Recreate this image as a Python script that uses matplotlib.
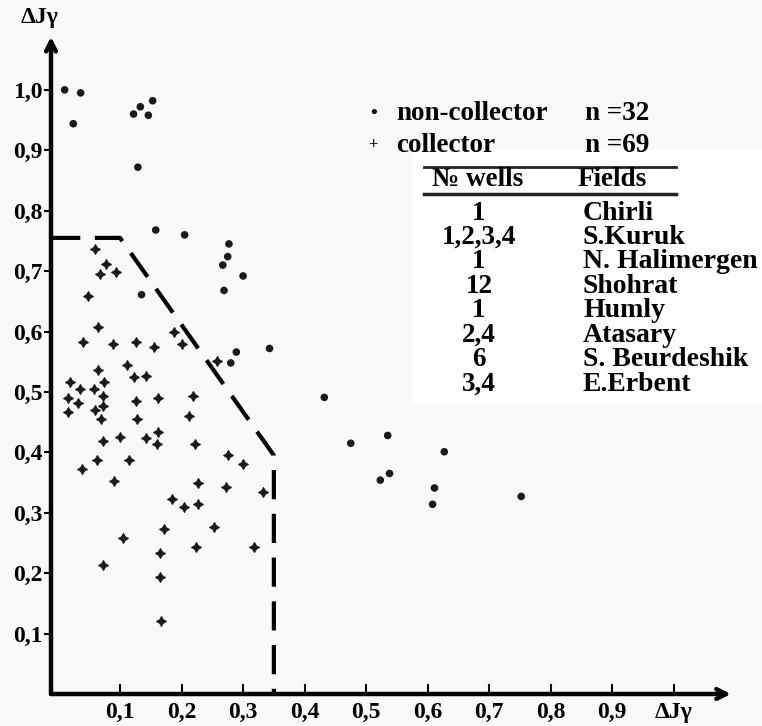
import matplotlib
matplotlib.use("Agg")
import matplotlib.pyplot as plt
from matplotlib.patches import Rectangle

plt.rcParams['font.family'] = ['Liberation Serif', 'DejaVu Serif']
plt.rcParams['font.weight'] = 'bold'

# ---------------- data ----------------
noncollector_x = [0.010, 0.036, 0.024, 0.122, 0.133, 0.146, 0.153, 0.129, 0.158, 0.205,
                  0.277, 0.275, 0.267, 0.300, 0.269, 0.289, 0.343, 0.280, 0.432, 0.475,
                  0.535, 0.627, 0.538, 0.523, 0.611, 0.608, 0.752, 0.135]
noncollector_y = [1.000, 0.995, 0.944, 0.960, 0.972, 0.958, 0.982, 0.872, 0.768, 0.760,
                  0.745, 0.724, 0.710, 0.692, 0.668, 0.566, 0.572, 0.548, 0.491, 0.415,
                  0.428, 0.401, 0.365, 0.354, 0.341, 0.314, 0.327, 0.661]

collector_x = [0.078, 0.067, 0.093, 0.048, 0.065, 0.040, 0.089, 0.126, 0.156, 0.188,
               0.200, 0.064, 0.111, 0.123, 0.143, 0.019, 0.074, 0.035, 0.057, 0.016,
               0.072, 0.126, 0.161, 0.218, 0.032, 0.060, 0.073, 0.016, 0.069, 0.127,
               0.212, 0.072, 0.100, 0.143, 0.161, 0.160, 0.222, 0.059, 0.257, 0.038,
               0.062, 0.115, 0.090, 0.226, 0.276, 0.300, 0.273, 0.332, 0.185, 0.204,
               0.226, 0.172, 0.252, 0.105, 0.165, 0.224, 0.318, 0.073, 0.165, 0.167]
collector_y = [0.712, 0.695, 0.699, 0.659, 0.607, 0.583, 0.579, 0.583, 0.575, 0.600,
               0.580, 0.537, 0.544, 0.524, 0.527, 0.516, 0.516, 0.505, 0.505, 0.490,
               0.493, 0.485, 0.490, 0.493, 0.481, 0.470, 0.477, 0.466, 0.455, 0.455,
               0.460, 0.419, 0.426, 0.423, 0.434, 0.414, 0.413, 0.736, 0.551, 0.372,
               0.388, 0.388, 0.353, 0.349, 0.396, 0.381, 0.342, 0.334, 0.323, 0.310,
               0.315, 0.273, 0.277, 0.258, 0.233, 0.243, 0.243, 0.214, 0.194, 0.121]

boundary_x = [-0.012, 0.100, 0.350, 0.350]
boundary_y = [0.755, 0.755, 0.395, 0.0]

tick_values = [0.1, 0.2, 0.3, 0.4, 0.5, 0.6, 0.7, 0.8, 0.9, 1.0]
ytick_labels = ['0,1', '0,2', '0,3', '0,4', '0,5', '0,6', '0,7', '0,8', '0,9', '1,0']
xtick_labels = ['0,1', '0,2', '0,3', '0,4', '0,5', '0,6', '0,7', '0,8', '0,9', 'ΔJγ']

legend_labels = ['non-collector', 'collector']
legend_counts = ['n =32', 'n =69']
table_header = ['№ wells', 'Fields']
wells = ['1', '1,2,3,4', '1', '12', '1', '2,4', '6', '3,4']
fields = ['Chirli', 'S.Kuruk', 'N. Halimergen', 'Shohrat', 'Humly', 'Atasary',
          'S. Beurdeshik', 'E.Erbent']

# ---------------- figure ----------------
W, H = 762, 726
fig = plt.figure(figsize=(W / 100, H / 100), dpi=100)
fig.patch.set_facecolor('#f9f9f9')


def fx(px):
    return px / W


def fy(py):
    return 1 - py / H


# white patch behind the table
fig.patches.append(Rectangle((fx(412), fy(405)), fx(762) - fx(412), fy(150) - fy(405),
                             transform=fig.transFigure, facecolor='white',
                             edgecolor='none', zorder=0))

ax_l, ax_r, ax_b, ax_t = 51, 731, 694, 36.7
ax = fig.add_axes([fx(ax_l), fy(ax_b), fx(ax_r) - fx(ax_l), fy(ax_t) - fy(ax_b)])
ax.set_facecolor('none')
ax.set_xlim(-0.0122, 1.093)
ax.set_ylim(0, 1.088)
for s in ax.spines.values():
    s.set_visible(False)

# axes with arrows
arrow = dict(arrowstyle='->,head_length=0.7,head_width=0.35', lw=3.2, color='black',
             shrinkA=0, shrinkB=0)
ax.annotate('', xy=(1, 0), xytext=(0, 0), xycoords='axes fraction', arrowprops=arrow,
            annotation_clip=False)
ax.annotate('', xy=(0, 1), xytext=(0, 0), xycoords='axes fraction', arrowprops=arrow,
            annotation_clip=False)

ax.set_yticks(tick_values)
ax.set_yticklabels(ytick_labels, fontsize=17, fontweight='bold')
ax.set_xticks(tick_values)
ax.set_xticklabels(xtick_labels, fontsize=17, fontweight='bold')
ax.tick_params(axis='y', direction='out', length=5, width=1.5, pad=1)
ax.tick_params(axis='x', direction='in', length=7, width=1.5, pad=6)

# boundary
ax.plot(boundary_x, boundary_y, color='black', lw=3, linestyle=(0, (7, 3.5)),
        clip_on=False, zorder=2)

# points
ax.scatter(noncollector_x, noncollector_y, s=30, marker='o', color='#1a1a1a',
           edgecolors='none', zorder=3)
ax.scatter(collector_x, collector_y, s=48, marker=(4, 1, 0), color='#1a1a1a',
           edgecolors='#1a1a1a', linewidths=0.9, zorder=3)

# top y-axis label
fig.text(fx(40), fy(17), 'ΔJγ', fontsize=17, fontweight='bold', ha='center', va='center')

# legend
leg_y = [114, 145]
fig.text(fx(374), fy(leg_y[0]), '•', fontsize=14, ha='center', va='center')
fig.text(fx(373), fy(leg_y[1]), '+', fontsize=12, ha='center', va='center')
for i, (lab, cnt) in enumerate(zip(legend_labels, legend_counts)):
    fig.text(fx(396), fy(leg_y[i]), lab, fontsize=19.5, fontweight='bold',
             ha='left', va='center')
    fig.text(fx(585), fy(leg_y[i]), cnt, fontsize=19.5, fontweight='bold',
             ha='left', va='center')

# table
fig.lines.append(plt.Line2D([fx(424), fx(676)], [fy(167), fy(167)], color='#222222', lw=2,
                            transform=fig.transFigure))
fig.lines.append(plt.Line2D([fx(424), fx(676)], [fy(194), fy(194)], color='#222222', lw=2.5,
                            transform=fig.transFigure))
fig.text(fx(478), fy(180), table_header[0], fontsize=19.5, fontweight='bold',
         ha='center', va='center')
fig.text(fx(612), fy(180), table_header[1], fontsize=19.5, fontweight='bold',
         ha='center', va='center')
row0, dy = 213, 24.5
for i, (w, f) in enumerate(zip(wells, fields)):
    yy = row0 + i * dy
    fig.text(fx(479), fy(yy), w, fontsize=19.5, fontweight='bold', ha='center', va='center')
    fig.text(fx(583), fy(yy), f, fontsize=20, fontweight='bold', ha='left', va='center')

fig.savefig('out.png', dpi=100, facecolor=fig.get_facecolor())
